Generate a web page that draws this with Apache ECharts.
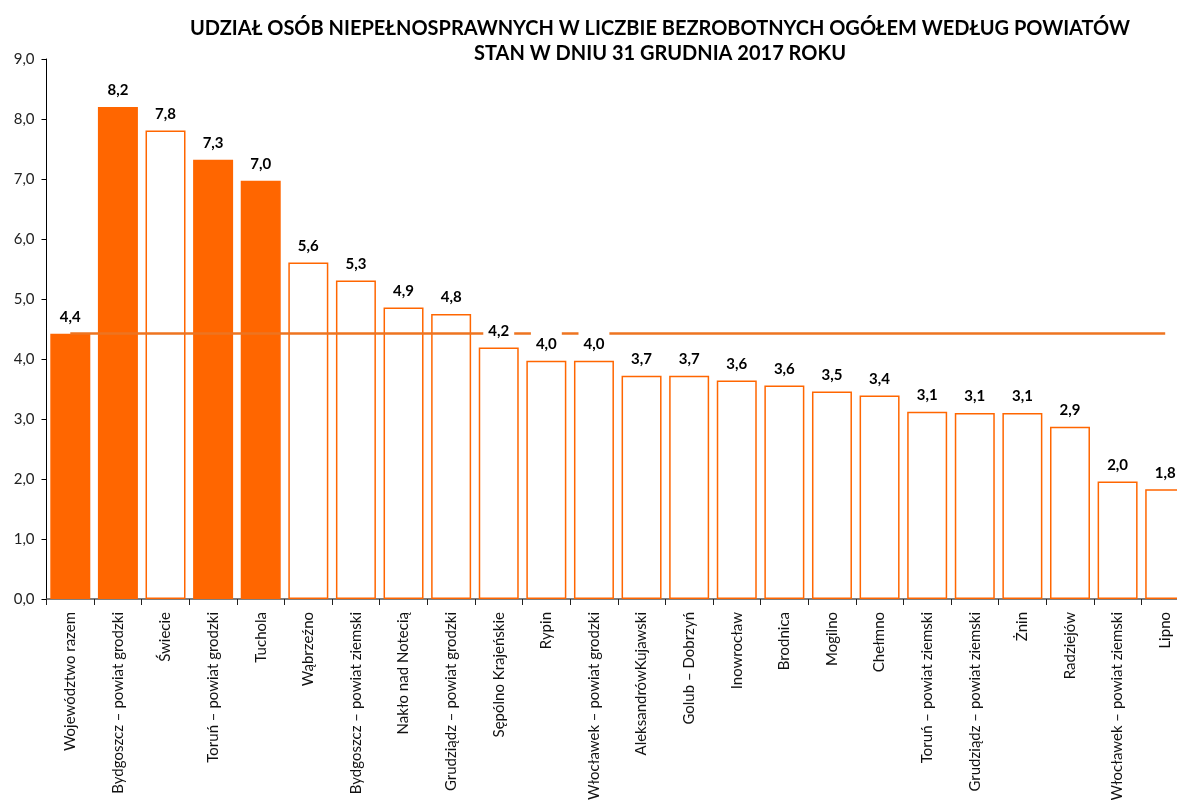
<!DOCTYPE html>
<html>
<head>
<meta charset="utf-8">
<script src="https://cdn.jsdelivr.net/npm/echarts@6/dist/echarts.min.js"></script>
<style>
html,body{margin:0;padding:0;background:#fff;}
#chart{width:1177px;height:800px;}
</style>
</head>
<body>
<div id="chart"></div>
<script>
const TITLE_LINES = [
  'UDZIAŁ OSÓB NIEPEŁNOSPRAWNYCH W LICZBIE BEZROBOTNYCH OGÓŁEM WEDŁUG POWIATÓW',
  'STAN W DNIU 31 GRUDNIA 2017 ROKU'
];
const categories = [
  'Województwo razem', 'Bydgoszcz – powiat grodzki', 'Świecie', 'Toruń – powiat grodzki', 'Tuchola',
  'Wąbrzeźno', 'Bydgoszcz – powiat ziemski', 'Nakło nad Notecią', 'Grudziądz – powiat grodzki',
  'Sępólno Krajeńskie', 'Rypin', 'Włocławek – powiat grodzki', 'AleksandrówKujawski', 'Golub – Dobrzyń',
  'Inowrocław', 'Brodnica', 'Mogilno', 'Chełmno', 'Toruń – powiat ziemski', 'Grudziądz – powiat ziemski',
  'Żnin', 'Radziejów', 'Włocławek – powiat ziemski', 'Lipno'
];
const values = [
  4.42, 8.2, 7.81, 7.32, 6.97,
  5.61, 5.31, 4.86, 4.75,
  4.19, 3.97, 3.97, 3.72, 3.72,
  3.64, 3.56, 3.46, 3.39, 3.12, 3.1,
  3.1, 2.87, 1.96, 1.83
];
const highlighted = ['Województwo razem', 'Bydgoszcz – powiat grodzki', 'Toruń – powiat grodzki', 'Tuchola'];
const averageValue = 4.43;
const yTicks = { min: 0, max: 9, interval: 1 };

const ORANGE = '#FF6600';
const LINE_ORANGE = '#EE7420';
const FONT = 'Lato, "Open Sans", sans-serif';
const fmt = v => (Math.round(v * 10) / 10).toFixed(1).replace('.', ',');

const chart = echarts.init(document.getElementById('chart'), null, { renderer: 'canvas' });
chart.setOption({
  animation: false,
  backgroundColor: '#fff',
  title: {
    text: TITLE_LINES.join('\n'),
    left: 655, textAlign: 'center', top: 11,
    textStyle: { fontFamily: FONT, fontWeight: 'bold', fontSize: 20, lineHeight: 25, color: '#000' }
  },
  grid: { left: 46.5, top: 59, width: 1142.5, height: 540, containLabel: false, outerBoundsMode: 'none' },
  xAxis: {
    type: 'category',
    data: categories,
    boundaryGap: true,
    axisLine: { show: true, lineStyle: { color: '#555', width: 1.5 } },
    axisTick: { show: true, alignWithLabel: false, length: 6, lineStyle: { color: '#222', width: 1 } },
    axisLabel: {
      interval: 0, rotate: 90, margin: 13,
      fontFamily: FONT, fontSize: 15, color: '#111'
    }
  },
  yAxis: {
    type: 'value', min: yTicks.min, max: yTicks.max, interval: yTicks.interval,
    axisLine: { show: true, lineStyle: { color: '#000', width: 1 } },
    axisTick: { show: true, length: 5, lineStyle: { color: '#000' } },
    splitLine: { show: false },
    axisLabel: { formatter: v => fmt(v), fontFamily: FONT, fontSize: 15, color: '#222', margin: 12 }
  },
  series: [
    {
      type: 'bar', z: 2,
      barCategoryGap: '16%',
      data: values.map((v, i) => ({
        value: v,
        itemStyle: {
          color: highlighted.includes(categories[i]) ? ORANGE : '#fff',
          borderColor: ORANGE, borderWidth: 1.5
        }
      })),
      label: { show: false },
      markLine: {
        z: 3, silent: true, symbol: ['none', 'none'],
        label: { show: false },
        lineStyle: { color: LINE_ORANGE, width: 2.5, type: 'solid' },
        data: [[
          { xAxis: categories[0], yAxis: averageValue },
          { xAxis: categories[categories.length - 1], yAxis: averageValue }
        ]]
      }
    },
    {
      type: 'bar', z: 6, barGap: '-100%',
      barCategoryGap: '16%',
      data: values,
      itemStyle: { color: 'rgba(0,0,0,0)' },
      label: {
        show: true, position: 'top', distance: 6,
        formatter: p => fmt(p.value),
        fontFamily: FONT, fontWeight: 'bold', fontSize: 15, color: '#000',
        backgroundColor: '#fff', padding: [8, 5, 3, 5]
      }
    }
  ]
});
</script>
</body>
</html>
